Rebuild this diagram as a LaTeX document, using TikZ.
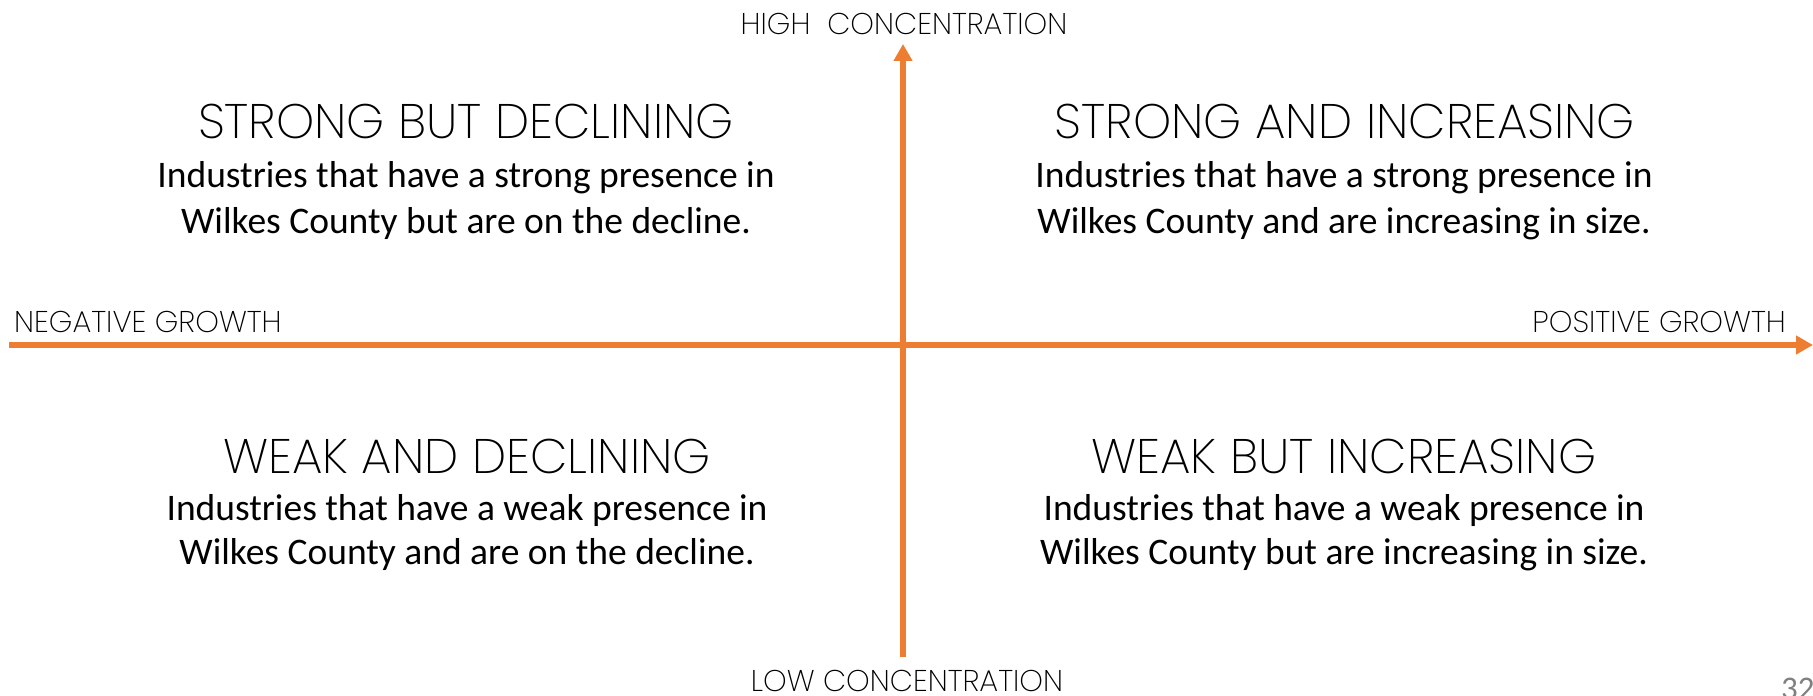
\documentclass[tikz,border=0pt]{standalone}
\usepackage{fontspec}
\setmainfont{Carlito}
\newfontfamily\hd{Poppins ExtraLight}
\usetikzlibrary{arrows.meta}
\definecolor{axiscol}{HTML}{ED7D31}
\definecolor{txt}{HTML}{000000}
\definecolor{pagenum}{HTML}{808080}
\begin{document}
\begin{tikzpicture}[x=1pt,y=1pt,
  ax/.style={draw=axiscol,line width=6pt,-{Triangle[length=17pt,width=18pt]}},
  head/.style={font=\hd\fontsize{48.5}{52}\selectfont, inner sep=0pt, anchor=base, text=txt},
  body/.style={font=\fontsize{37.5}{44}\selectfont, inner sep=0pt, anchor=base, text=txt},
  lab/.style={font=\hd\fontsize{30}{32}\selectfont, inner sep=0pt, text=txt}]
\useasboundingbox (0,0) rectangle (1813,696);
% axes
\coordinate (L) at (9,351);
\coordinate (R) at (1813,351);
\coordinate (B) at (903,39);
\coordinate (T) at (903,652);
\draw[ax] (L) -- (R);
\draw[ax] (B) -- (T);
% axis labels
\node[lab,anchor=base] (high) at (904,661) {HIGH\ \ CONCENTRATION};
\node[lab,anchor=base] (low) at (907,4) {LOW CONCENTRATION};
\node[lab,anchor=base west] (neg) at (14,363) {NEGATIVE GROWTH};
\node[lab,anchor=base east] (pos) at (1786,363) {POSITIVE GROWTH};
% top-left
\node[head] (h1) at (466,557) {STRONG BUT DECLINING};
\node[body] (b1a) at (466,508) {Industries that have a strong presence in};
\node[body] (b1b) at (466,462) {Wilkes County but are on the decline.};
% top-right
\node[head] (h2) at (1345,557) {STRONG AND INCREASING};
\node[body] (b2a) at (1344,508) {Industries that have a strong presence in};
\node[body] (b2b) at (1344,462) {Wilkes County and are increasing in size.};
% bottom-left
\node[head] (h3) at (467,222) {WEAK AND DECLINING};
\node[body] (b3a) at (467,175) {Industries that have a weak presence in};
\node[body] (b3b) at (467,131) {Wilkes County and are on the decline.};
% bottom-right
\node[head] (h4) at (1344,222) {WEAK BUT INCREASING};
\node[body] (b4a) at (1344,175) {Industries that have a weak presence in};
\node[body] (b4b) at (1344,131) {Wilkes County but are increasing in size.};
% page number
\node[body,anchor=base west,text=pagenum,font=\fontsize{33}{40}\selectfont] (pg) at (1781,-4) {32};
\end{tikzpicture}
\end{document}
